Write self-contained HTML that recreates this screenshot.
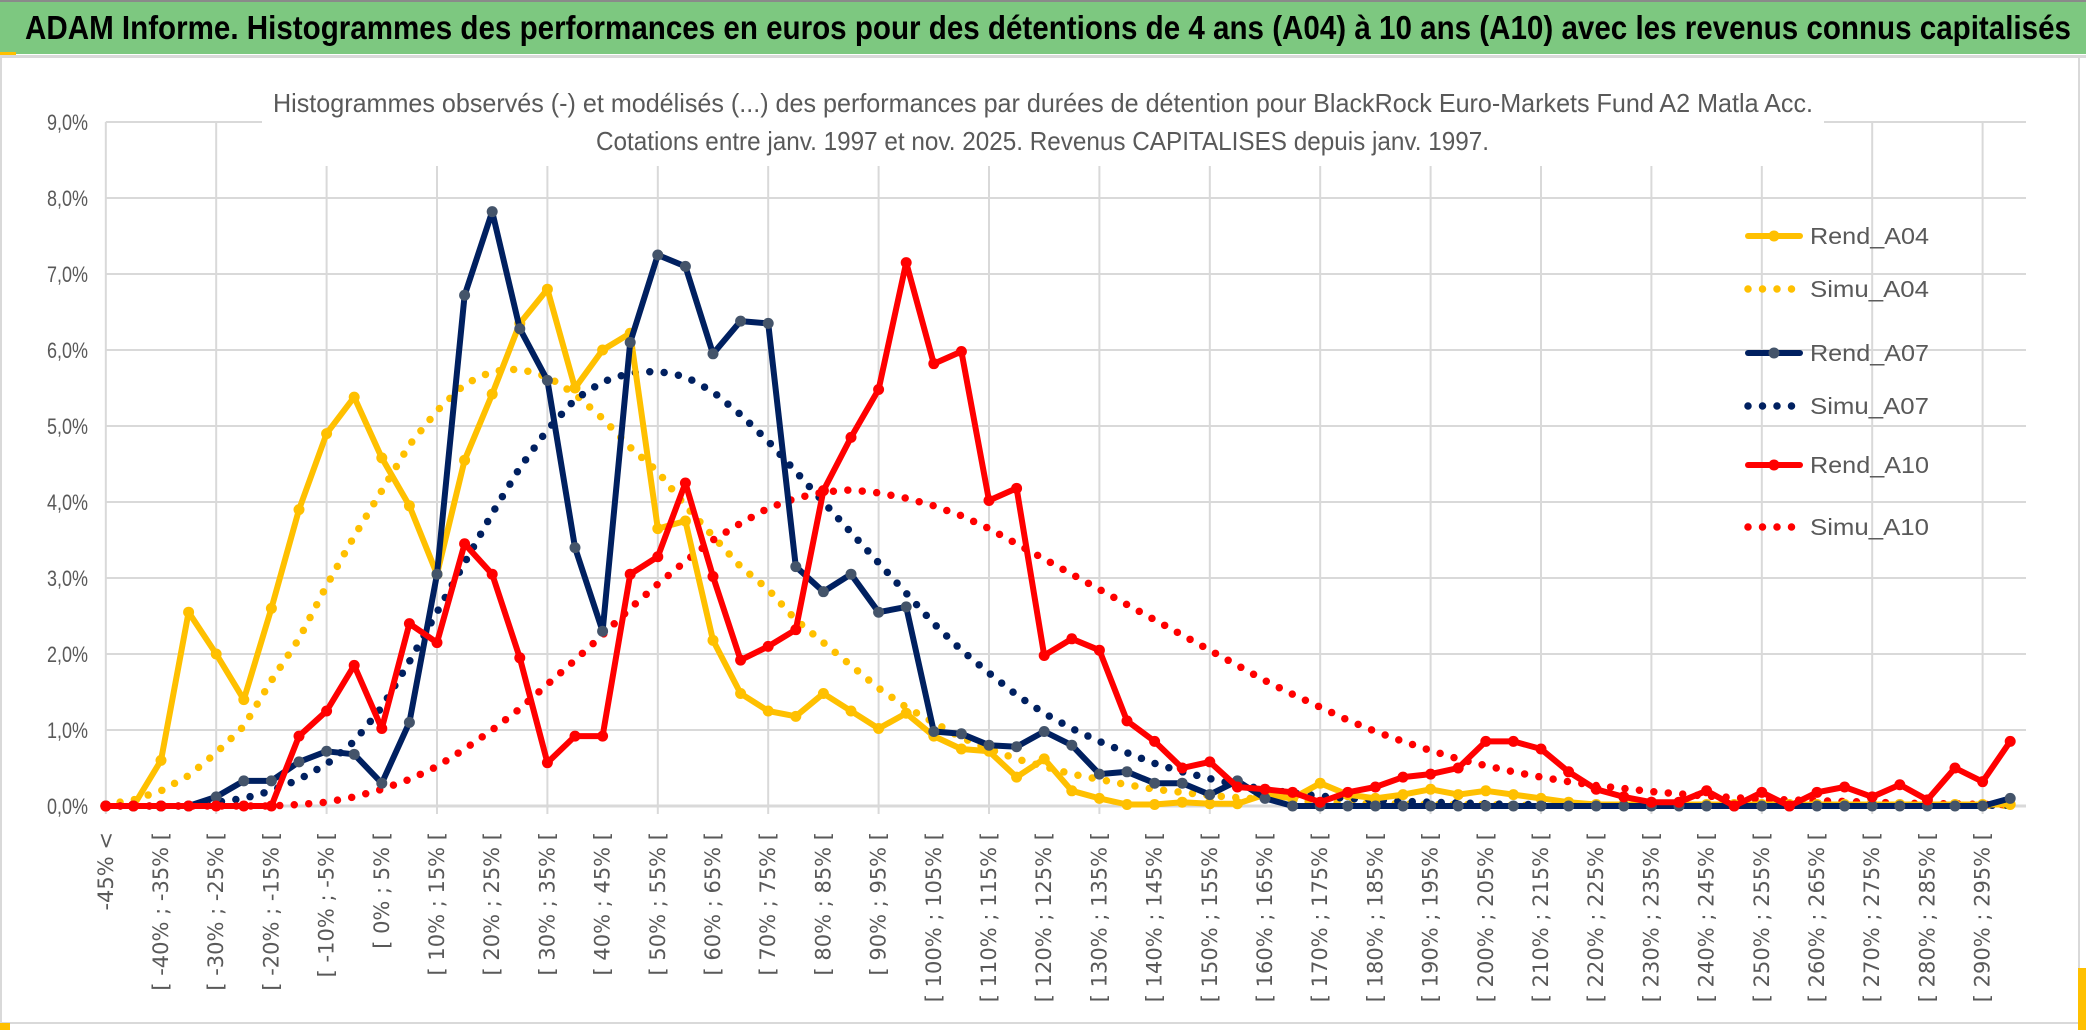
<!DOCTYPE html>
<html><head><meta charset="utf-8">
<style>
html,body{margin:0;padding:0;background:#fff;}
svg{display:block;font-family:"Liberation Sans",sans-serif;}
</style></head>
<body>
<svg id="chart" width="2086" height="1033" viewBox="0 0 2086 1033" xmlns="http://www.w3.org/2000/svg">
  <rect x="0" y="0" width="2086" height="1033" fill="#fff"/>
  <rect x="0" y="0" width="2086" height="54" fill="#7DC880"/>
  <rect x="0" y="0" width="2086" height="2" fill="#8a8a8a"/>
  <rect x="0" y="52" width="16" height="3" fill="#FFC000"/>
  <rect x="0" y="55" width="2086" height="3" fill="#d9d9d9"/>
  <rect x="1" y="57" width="2078" height="966" fill="none" stroke="#d9d9d9" stroke-width="2"/>
  <rect x="0" y="1023" width="10" height="7" fill="#FFC000"/>
  <rect x="2078" y="968" width="8" height="62" fill="#FFC000"/>
  <text x="25" y="39" font-size="33" font-weight="bold" fill="#000" textLength="2046" lengthAdjust="spacingAndGlyphs">ADAM Informe. Histogrammes des performances en euros pour des détentions de 4 ans (A04) à 10 ans (A10) avec les revenus connus capitalisés</text>
  <g id="grid"></g>
  <g id="yaxis"></g>
  <g id="xaxis"></g>
  <rect x="262" y="78" width="1562" height="88" fill="#fff"/>
  <text x="273" y="112" font-size="26" fill="#595959" textLength="1540" lengthAdjust="spacingAndGlyphs">Histogrammes observés (-) et modélisés (...) des performances par durées de détention pour BlackRock Euro-Markets Fund A2 Matla Acc.</text>
  <text x="596" y="150" font-size="26" fill="#595959" textLength="893" lengthAdjust="spacingAndGlyphs">Cotations entre janv. 1997 et nov. 2025. Revenus CAPITALISES depuis janv. 1997.</text>
  <g id="series"></g>
  <g id="legend"></g>
</svg>
<script>
const categories = (function(){const c=["-45% <"];for(let k=1;k<70;k++){c.push("[ "+(-50+5*k)+"% ; "+(-45+5*k)+"% [");}return c;})();
const yTicks = [0,1,2,3,4,5,6,7,8,9];
const yTickLabels = ["0,0%","1,0%","2,0%","3,0%","4,0%","5,0%","6,0%","7,0%","8,0%","9,0%"];
const seriesNames = ["Rend_A04","Simu_A04","Rend_A07","Simu_A07","Rend_A10","Simu_A10"];
const rendA04 = [0,0,0.6,2.55,2.0,1.4,2.6,3.9,4.9,5.38,4.58,3.95,3.05,4.55,5.42,6.35,6.8,5.5,6.0,6.22,3.65,3.75,2.18,1.48,1.25,1.18,1.48,1.25,1.02,1.22,0.92,0.75,0.72,0.38,0.62,0.2,0.1,0.02,0.02,0.05,0.03,0.03,0.15,0.1,0.3,0.15,0.1,0.15,0.22,0.15,0.2,0.15,0.1,0.05,0.02,0.02,0.02,0.02,0.02,0.02,0.02,0.02,0.02,0.02,0.02,0.02,0.02,0.02,0.02,0.02];
const simuA04 = [0.02,0.08,0.2,0.4,0.7,1.05,1.65,2.2,2.9,3.55,4.15,4.75,5.2,5.55,5.72,5.75,5.65,5.42,5.1,4.72,4.4,3.95,3.55,3.15,2.85,2.45,2.15,1.85,1.55,1.3,1.1,0.9,0.75,0.62,0.52,0.42,0.35,0.28,0.22,0.18,0.14,0.11,0.09,0.07,0.05,0.04,0.03,0.03,0.02,0.02,0.02,0.01,0.01,0.01,0.01,0.01,0.01,0.01,0.01,0.01,0.01,0.01,0.01,0.01,0.01,0.01,0.01,0.01,0.01,0.01];
const rendA07 = [0,0,0,0,0.12,0.33,0.33,0.58,0.72,0.68,0.3,1.1,3.05,6.72,7.82,6.28,5.6,3.4,2.3,6.1,7.25,7.1,5.95,6.38,6.35,3.15,2.82,3.05,2.55,2.62,0.98,0.95,0.8,0.78,0.98,0.8,0.42,0.45,0.3,0.3,0.15,0.33,0.1,0,0,0,0,0,0,0,0,0,0,0,0,0,0,0,0,0,0,0,0,0,0,0,0,0,0,0.1];
const simuA07 = [0,0,0,0,0.05,0.1,0.2,0.35,0.55,0.85,1.3,1.9,2.55,3.2,3.85,4.45,4.95,5.35,5.58,5.7,5.72,5.65,5.45,5.15,4.8,4.4,4.0,3.6,3.2,2.8,2.4,2.05,1.75,1.46,1.22,1.02,0.85,0.7,0.56,0.45,0.36,0.28,0.22,0.17,0.13,0.1,0.08,0.06,0.05,0.04,0.03,0.02,0.02,0.01,0.01,0.01,0.01,0.01,0.01,0.01,0.01,0.01,0.01,0.01,0.01,0.01,0.01,0.01,0.01,0.01];
const rendA10 = [0,0,0,0,0,0,0,0.92,1.25,1.85,1.02,2.4,2.15,3.45,3.05,1.95,0.57,0.92,0.92,3.05,3.28,4.25,3.02,1.92,2.1,2.32,4.15,4.85,5.48,7.15,5.82,5.98,4.02,4.18,1.98,2.2,2.05,1.12,0.85,0.5,0.58,0.25,0.22,0.18,0.05,0.18,0.25,0.38,0.42,0.5,0.85,0.85,0.75,0.45,0.22,0.12,0.05,0.05,0.2,0,0.18,0,0.18,0.25,0.12,0.28,0.08,0.5,0.32,0.85];
const simuA10 = [0,0,0,0,0,0,0,0.02,0.05,0.12,0.22,0.35,0.52,0.75,1.0,1.28,1.6,1.92,2.25,2.6,2.92,3.22,3.5,3.72,3.92,4.05,4.13,4.16,4.12,4.05,3.95,3.82,3.65,3.45,3.25,3.05,2.85,2.65,2.45,2.25,2.05,1.85,1.65,1.47,1.3,1.13,0.98,0.85,0.73,0.62,0.53,0.45,0.38,0.32,0.27,0.23,0.19,0.16,0.13,0.11,0.09,0.08,0.07,0.06,0.05,0.04,0.03,0.03,0.02,0.02];

const NS="http://www.w3.org/2000/svg";
const X0=105.8, DX=27.6, Y0=806, DY=76, XR=2026;
function xScale(i){return X0+DX*i;}
function yScale(v){return Y0-DY*v;}
function mk(tag,attrs,parent){const e=document.createElementNS(NS,tag);for(const k in attrs)e.setAttribute(k,attrs[k]);parent.appendChild(e);return e;}

const grid=document.getElementById('grid');
yTicks.forEach((t,i)=>{
  const l=mk('line',{x1:X0,x2:XR,y1:yScale(t),y2:yScale(t),stroke:'#d9d9d9','stroke-width':t===0?3:2},grid);
  
  
});
for(let i=0;i<categories.length;i+=4){
  const l=mk('line',{x1:xScale(i),x2:xScale(i),y1:yScale(9),y2:Y0+8,stroke:'#d9d9d9','stroke-width':2},grid);
  
  
}
const yaxis=document.getElementById('yaxis');
yTicks.forEach((t,i)=>{
  const tx=mk('text',{x:88,y:yScale(t)+8,'font-size':22,fill:'#595959','text-anchor':'end',textLength:41,lengthAdjust:'spacingAndGlyphs'},yaxis);
  tx.textContent=yTickLabels[i];
  
  
});
const xaxis=document.getElementById('xaxis');
categories.forEach((c,i)=>{
  if(i%2!==0)return;
  const x=xScale(i)+7;
  const tx=mk('text',{x:0,y:0,transform:'translate('+x+',832) rotate(-90)','font-size':21,fill:'#595959','text-anchor':'end','font-family':'"DejaVu Sans",sans-serif'},xaxis);
  tx.textContent=c;
  
  
});

const seriesData=[rendA04,simuA04,rendA07,simuA07,rendA10,simuA10];
const colors=["#FFC000","#FFC000","#002060","#002060","#FF0000","#FF0000"];
const markerColors=["#FFC000",null,"#44546A",null,"#FF0000",null];
const sg=document.getElementById('series');
const order=[1,3,5,0,2,4];
order.forEach(s=>{
  const d=seriesData[s];
  const pts=d.map((v,i)=>xScale(i).toFixed(1)+','+yScale(v).toFixed(1)).join(' ');
  const g=mk('g',{},sg);
  
  
  const dotted=markerColors[s]===null;
  const pl=mk('polyline',{points:pts,fill:'none',stroke:colors[s],'stroke-width':dotted?7.5:6,'stroke-linejoin':'round','stroke-linecap':'round','stroke-dasharray':dotted?'0 14.5':'none'},g);
  
  
  if(!dotted){
    d.forEach((v,i)=>{
      const c=mk('circle',{cx:xScale(i),cy:yScale(v),r:5.5,fill:markerColors[s]},g);
      
      
    });
  }
});

const lg=document.getElementById('legend');
const legendY=[236,289,353,406,465,527];
seriesNames.forEach((n,s)=>{
  const g=mk('g',{},lg);
  
  
  const y=legendY[s];
  const dotted=markerColors[s]===null;
  mk('line',{x1:1748,x2:1800,y1:y,y2:y,stroke:colors[s],'stroke-width':dotted?7.5:6,'stroke-linecap':'round','stroke-dasharray':dotted?'0 14.5':'none'},g);
  if(!dotted) mk('circle',{cx:1774,cy:y,r:5.5,fill:markerColors[s]},g);
  const t=mk('text',{x:1810,y:y+8,'font-size':23,fill:'#595959',textLength:119,lengthAdjust:'spacingAndGlyphs'},g);
  t.textContent=n;
});
</script>
</body></html>
